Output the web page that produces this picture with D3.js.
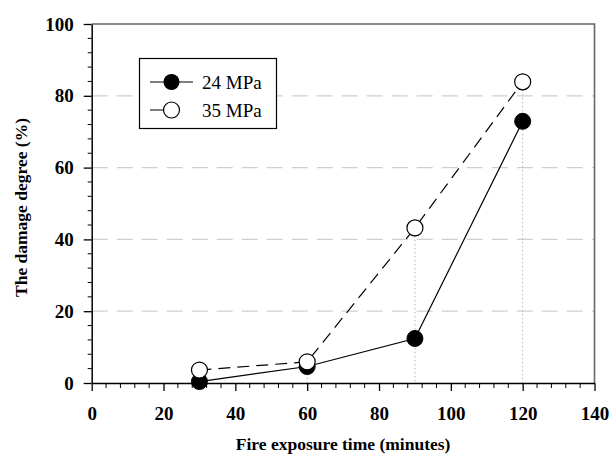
<!DOCTYPE html>
<html><head><meta charset="utf-8">
<script src="https://cdn.jsdelivr.net/npm/d3@7"></script>
<style>body{margin:0;background:#fff}svg{display:block}</style>
</head><body>
<svg id="chart" width="611" height="457"></svg>
<script>
const times = [30, 60, 90, 120];
const mpa24 = [0.4, 4.6, 12.4, 72.9];
const mpa35 = [3.6, 5.9, 43.2, 83.9];
const seriesNames = ["24 MPa", "35 MPa"];
const xTicks = [0, 20, 40, 60, 80, 100, 120, 140];
const yTicks = [0, 20, 40, 60, 80, 100];
const gridVals = [20, 40, 60, 80];

(function () {
const svg = d3.select("#chart");
const pL = 91.7, pR = 594.5, pT = 24, pB = 383;
const x = d3.scaleLinear().domain([0, 140]).range([pL, pR]);
const y = d3.scaleLinear().domain([0, 100]).range([pB, pT]);
const font = "'Liberation Serif','Times New Roman',serif";

// gridlines
svg.append("g").selectAll("line").data(gridVals).join("line")
  .attr("x1", pL).attr("x2", pR)
  .attr("y1", d => y(d)).attr("y2", d => y(d))
  .attr("stroke", "#cfcfcf").attr("stroke-width", 1.3)
  .attr("stroke-dasharray", "16,9");

// drop lines
svg.append("g").selectAll("line").data(times).join("line")
  .attr("x1", d => x(d)).attr("x2", d => x(d))
  .attr("y1", (d, i) => y(Math.max(mpa24[i], mpa35[i]))).attr("y2", pB)
  .attr("stroke", "#b0b0b0").attr("stroke-width", 1)
  .attr("stroke-dasharray", "1.5,2.5");

// frame top & right
svg.append("path")
  .attr("d", `M${pL},${pT}H${pR}V${pB}`)
  .attr("fill", "none").attr("stroke", "#666").attr("stroke-width", 1.6);

// axes
const xMinor = d3.range(0, 141, 4).filter(v => v % 20 !== 0);
const yMinor = d3.range(0, 101, 4).filter(v => v % 20 !== 0);

const gx = svg.append("g").attr("transform", `translate(0,${pB})`)
  .call(d3.axisBottom(x).tickValues(xTicks).tickSize(8).tickSizeOuter(0).tickPadding(16));
gx.append("g").selectAll("line").data(xMinor).join("line")
  .attr("x1", d => x(d)).attr("x2", d => x(d)).attr("y1", 0).attr("y2", 5)
  .attr("stroke", "#000").attr("stroke-width", 1);

const gy = svg.append("g").attr("transform", `translate(${pL},0)`)
  .call(d3.axisLeft(y).tickValues(yTicks).tickSize(8).tickSizeOuter(0).tickPadding(10));
gy.append("g").selectAll("line").data(yMinor).join("line")
  .attr("y1", d => y(d)).attr("y2", d => y(d)).attr("x1", 0).attr("x2", -4)
  .attr("stroke", "#000").attr("stroke-width", 1);

[gx, gy].forEach(g => {
  g.select(".domain").attr("stroke", "#000").attr("stroke-width", 1.5);
  g.selectAll(".tick line").attr("stroke", "#000").attr("stroke-width", 1.3);
  g.selectAll(".tick text").attr("font-family", font).attr("font-weight", "bold")
    .attr("font-size", 19).attr("fill", "#000");
});

// lines
const line = d3.line().x(d => x(d[0])).y(d => y(d[1]));
const d24 = times.map((t, i) => [t, mpa24[i]]);
const d35 = times.map((t, i) => [t, mpa35[i]]);

svg.append("path").datum(d35).attr("d", line)
  .attr("fill", "none").attr("stroke", "#000").attr("stroke-width", 1.2)
  .attr("stroke-dasharray", "12,7");
svg.append("path").datum(d24).attr("d", line)
  .attr("fill", "none").attr("stroke", "#000").attr("stroke-width", 1.2);

// markers
svg.append("g").selectAll("circle").data(d24).join("circle")
  .attr("cx", d => x(d[0])).attr("cy", d => y(d[1])).attr("r", 8)
  .attr("fill", "#000").attr("stroke", "#000");
svg.append("g").selectAll("circle").data(d35).join("circle")
  .attr("cx", d => x(d[0])).attr("cy", d => y(d[1])).attr("r", 8)
  .attr("fill", "#fff").attr("stroke", "#000").attr("stroke-width", 1.2);

// legend
const lg = svg.append("g");
lg.append("rect").attr("x", 139.5).attr("y", 58.5).attr("width", 137).attr("height", 70)
  .attr("fill", "#fff").attr("stroke", "#000").attr("stroke-width", 1.2);
const ly = [82, 110];
lg.append("line").attr("x1", 150).attr("x2", 193).attr("y1", ly[0]).attr("y2", ly[0])
  .attr("stroke", "#000").attr("stroke-width", 1.2);
lg.append("circle").attr("cx", 171.5).attr("cy", ly[0]).attr("r", 8).attr("fill", "#000");
lg.append("line").attr("x1", 150).attr("x2", 194).attr("y1", ly[1]).attr("y2", ly[1])
  .attr("stroke", "#000").attr("stroke-width", 1.2).attr("stroke-dasharray", "16,8,6,20");
lg.append("circle").attr("cx", 171.5).attr("cy", ly[1]).attr("r", 8)
  .attr("fill", "#fff").attr("stroke", "#000").attr("stroke-width", 1.2);
lg.selectAll("text").data(seriesNames).join("text")
  .attr("x", 202).attr("y", (d, i) => ly[i] + 6.5)
  .attr("font-family", font).attr("font-size", 19).text(d => d);

// axis titles
svg.append("text").attr("x", (pL + pR) / 2).attr("y", 450)
  .attr("text-anchor", "middle").attr("font-family", font).attr("font-weight", "bold")
  .attr("font-size", 17.5).text("Fire exposure time (minutes)");
svg.append("text").attr("transform", `translate(27,${(pT + pB) / 2 + 4}) rotate(-90)`)
  .attr("text-anchor", "middle").attr("font-family", font).attr("font-weight", "bold")
  .attr("font-size", 17.5).text("The damage degree (%)");
})();
</script>
</body></html>
